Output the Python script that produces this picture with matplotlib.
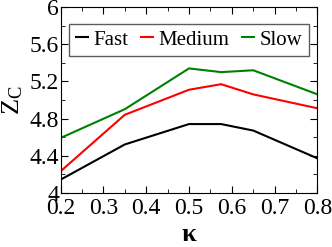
import matplotlib
matplotlib.use("Agg")
import matplotlib.pyplot as plt
from matplotlib.ticker import MultipleLocator

plt.rcParams['font.family'] = ['Liberation Serif', 'DejaVu Serif']
plt.rcParams['mathtext.fontset'] = 'custom'
plt.rcParams['mathtext.rm'] = 'Liberation Serif'
plt.rcParams['mathtext.it'] = 'Liberation Serif'

kappa = [0.2, 0.35, 0.5, 0.575, 0.65, 0.8]
fast = [4.14, 4.52, 4.74, 4.74, 4.67, 4.37]
medium = [4.23, 4.84, 5.11, 5.17, 5.06, 4.91]
slow = [4.59, 4.90, 5.34, 5.30, 5.32, 5.06]

fig = plt.figure(figsize=(3.32, 2.47), dpi=100)
ax = fig.add_axes([60.5 / 332, 1 - 192.7 / 247, 257 / 332, 185.5 / 247])

ax.plot(kappa, fast, color='black', lw=1.5, label='Fast')
ax.plot(kappa, medium, color='red', lw=1.5, label='Medium')
ax.plot(kappa, slow, color='green', lw=1.5, label='Slow')

ax.set_xlim(0.2, 0.8)
ax.set_ylim(4, 6)
ax.xaxis.set_minor_locator(MultipleLocator(0.05))
ax.yaxis.set_minor_locator(MultipleLocator(0.2))
ax.set_xticks([0.2, 0.3, 0.4, 0.5, 0.6, 0.7, 0.8])
ax.set_xticklabels(['0.2', '0.3', '0.4', '0.5', '0.6', '0.7', '0.8'])
ax.set_yticks([4, 4.4, 4.8, 5.2, 5.6, 6])
ax.set_yticklabels(['4', '4.4', '4.8', '5.2', '5.6', '6'])
ax.tick_params(which='both', direction='in', top=True, right=True, labelsize=17)
ax.tick_params(axis='x', pad=4)
ax.tick_params(axis='y', pad=1)
ax.tick_params(which='major', length=5)
ax.tick_params(which='minor', length=3)

ax.set_xlabel('κ', fontsize=19, fontweight='bold', labelpad=3)
ax.set_ylabel(r'Z$_\mathrm{C}$', fontsize=19, labelpad=3)

leg = ax.legend(loc='upper center', ncol=3, fontsize=15, handlelength=0.6,
                handletextpad=0.25, columnspacing=0.6, frameon=True, fancybox=False,
                borderpad=0.3, borderaxespad=0, bbox_to_anchor=(0.5, 0.91))
leg.get_frame().set_edgecolor('#333333')
leg.get_frame().set_linewidth(1.0)

fig.savefig('out.png', dpi=100)
